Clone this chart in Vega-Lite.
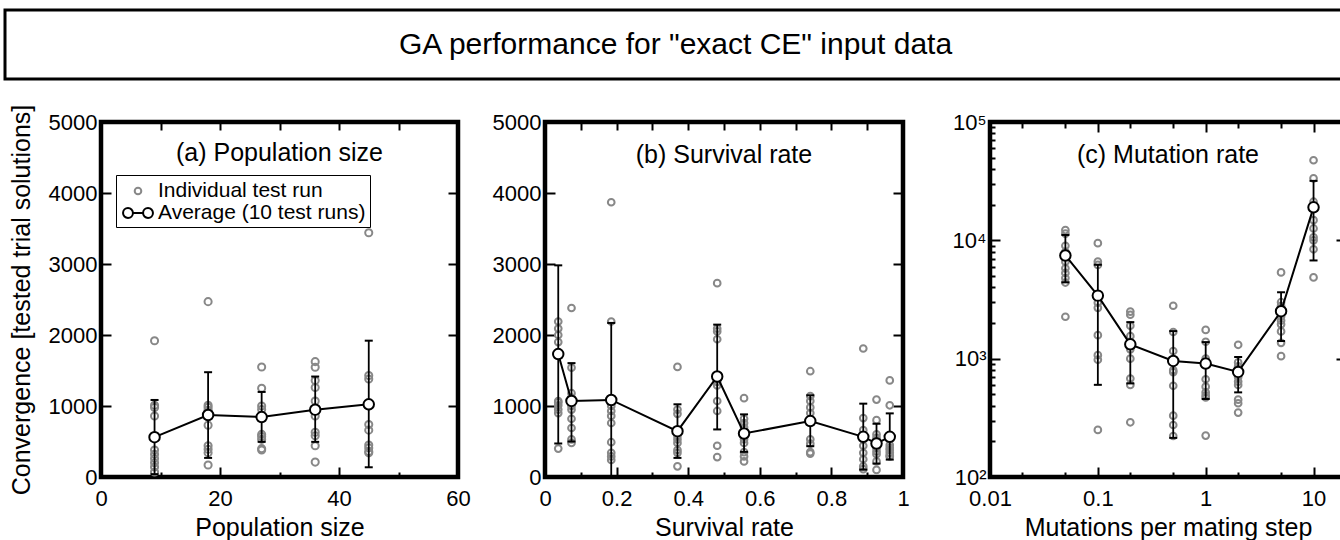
{
  "$schema": "https://vega.github.io/schema/vega-lite/v6.json",
  "padding": {"left": 3, "top": 8, "right": -8, "bottom": 0},
  "config": {
    "font": "Liberation Sans",
    "axis": {"domain": false, "grid": false, "tickColor": "black", "tickWidth": 2, "labelFontSize": 22, "labelColor": "black", "titleFontSize": 25, "titleFontWeight": "normal", "titleColor": "black", "labelFlush": false, "labelOverlap": false, "labelBound": false, "labelFont": "Liberation Sans", "titleFont": "Liberation Sans"},
    "title": {"fontWeight": "normal", "color": "black", "fontSize": 25, "font": "Liberation Sans"},
    "view": {"stroke": "black", "strokeWidth": 4.5},
    "legend": {"labelFont": "Liberation Sans"}
  },
  "datasets": {
    "head": [{"label": "GA performance for \"exact CE\" input data"}],
    "runs": [
      {"p":"a","x":9,"y":1920},{"p":"a","x":9,"y":1010},{"p":"a","x":9,"y":980},{"p":"a","x":9,"y":860},{"p":"a","x":9,"y":380},{"p":"a","x":9,"y":320},{"p":"a","x":9,"y":260},{"p":"a","x":9,"y":200},{"p":"a","x":9,"y":140},{"p":"a","x":9,"y":70},
      {"p":"a","x":18,"y":2470},{"p":"a","x":18,"y":1010},{"p":"a","x":18,"y":980},{"p":"a","x":18,"y":940},{"p":"a","x":18,"y":880},{"p":"a","x":18,"y":730},{"p":"a","x":18,"y":440},{"p":"a","x":18,"y":390},{"p":"a","x":18,"y":340},{"p":"a","x":18,"y":170},
      {"p":"a","x":27,"y":1550},{"p":"a","x":27,"y":1250},{"p":"a","x":27,"y":1000},{"p":"a","x":27,"y":950},{"p":"a","x":27,"y":840},{"p":"a","x":27,"y":600},{"p":"a","x":27,"y":570},{"p":"a","x":27,"y":530},{"p":"a","x":27,"y":400},{"p":"a","x":27,"y":380},
      {"p":"a","x":36,"y":1625},{"p":"a","x":36,"y":1545},{"p":"a","x":36,"y":1360},{"p":"a","x":36,"y":1260},{"p":"a","x":36,"y":1070},{"p":"a","x":36,"y":860},{"p":"a","x":36,"y":630},{"p":"a","x":36,"y":580},{"p":"a","x":36,"y":440},{"p":"a","x":36,"y":210},
      {"p":"a","x":45,"y":3440},{"p":"a","x":45,"y":1430},{"p":"a","x":45,"y":1380},{"p":"a","x":45,"y":1000},{"p":"a","x":45,"y":740},{"p":"a","x":45,"y":660},{"p":"a","x":45,"y":450},{"p":"a","x":45,"y":410},{"p":"a","x":45,"y":360},{"p":"a","x":45,"y":340},
      {"p":"b","x":0.037,"y":2190},{"p":"b","x":0.037,"y":2090},{"p":"b","x":0.037,"y":2000},{"p":"b","x":0.037,"y":1900},{"p":"b","x":0.037,"y":1070},{"p":"b","x":0.037,"y":1050},{"p":"b","x":0.037,"y":1010},{"p":"b","x":0.037,"y":950},{"p":"b","x":0.037,"y":900},{"p":"b","x":0.037,"y":400},
      {"p":"b","x":0.074,"y":2380},{"p":"b","x":0.074,"y":1540},{"p":"b","x":0.074,"y":1180},{"p":"b","x":0.074,"y":1120},{"p":"b","x":0.074,"y":1000},{"p":"b","x":0.074,"y":950},{"p":"b","x":0.074,"y":820},{"p":"b","x":0.074,"y":690},{"p":"b","x":0.074,"y":530},{"p":"b","x":0.074,"y":480},
      {"p":"b","x":0.185,"y":3870},{"p":"b","x":0.185,"y":2190},{"p":"b","x":0.185,"y":1000},{"p":"b","x":0.185,"y":930},{"p":"b","x":0.185,"y":860},{"p":"b","x":0.185,"y":760},{"p":"b","x":0.185,"y":490},{"p":"b","x":0.185,"y":340},{"p":"b","x":0.185,"y":290},{"p":"b","x":0.185,"y":240},
      {"p":"b","x":0.37,"y":1550},{"p":"b","x":0.37,"y":950},{"p":"b","x":0.37,"y":890},{"p":"b","x":0.37,"y":650},{"p":"b","x":0.37,"y":580},{"p":"b","x":0.37,"y":530},{"p":"b","x":0.37,"y":480},{"p":"b","x":0.37,"y":380},{"p":"b","x":0.37,"y":340},{"p":"b","x":0.37,"y":150},
      {"p":"b","x":0.481,"y":2730},{"p":"b","x":0.481,"y":2090},{"p":"b","x":0.481,"y":2050},{"p":"b","x":0.481,"y":1940},{"p":"b","x":0.481,"y":1340},{"p":"b","x":0.481,"y":1290},{"p":"b","x":0.481,"y":1070},{"p":"b","x":0.481,"y":930},{"p":"b","x":0.481,"y":440},{"p":"b","x":0.481,"y":280},
      {"p":"b","x":0.556,"y":1110},{"p":"b","x":0.556,"y":820},{"p":"b","x":0.556,"y":760},{"p":"b","x":0.556,"y":700},{"p":"b","x":0.556,"y":600},{"p":"b","x":0.556,"y":530},{"p":"b","x":0.556,"y":480},{"p":"b","x":0.556,"y":350},{"p":"b","x":0.556,"y":290},{"p":"b","x":0.556,"y":220},
      {"p":"b","x":0.741,"y":1490},{"p":"b","x":0.741,"y":1140},{"p":"b","x":0.741,"y":1070},{"p":"b","x":0.741,"y":980},{"p":"b","x":0.741,"y":900},{"p":"b","x":0.741,"y":800},{"p":"b","x":0.741,"y":530},{"p":"b","x":0.741,"y":470},{"p":"b","x":0.741,"y":350},{"p":"b","x":0.741,"y":330},
      {"p":"b","x":0.889,"y":1810},{"p":"b","x":0.889,"y":830},{"p":"b","x":0.889,"y":660},{"p":"b","x":0.889,"y":580},{"p":"b","x":0.889,"y":530},{"p":"b","x":0.889,"y":440},{"p":"b","x":0.889,"y":340},{"p":"b","x":0.889,"y":250},{"p":"b","x":0.889,"y":150},{"p":"b","x":0.889,"y":110},
      {"p":"b","x":0.926,"y":1090},{"p":"b","x":0.926,"y":800},{"p":"b","x":0.926,"y":600},{"p":"b","x":0.926,"y":550},{"p":"b","x":0.926,"y":500},{"p":"b","x":0.926,"y":410},{"p":"b","x":0.926,"y":360},{"p":"b","x":0.926,"y":320},{"p":"b","x":0.926,"y":220},{"p":"b","x":0.926,"y":100},
      {"p":"b","x":0.963,"y":1360},{"p":"b","x":0.963,"y":1010},{"p":"b","x":0.963,"y":560},{"p":"b","x":0.963,"y":530},{"p":"b","x":0.963,"y":450},{"p":"b","x":0.963,"y":410},{"p":"b","x":0.963,"y":380},{"p":"b","x":0.963,"y":340},{"p":"b","x":0.963,"y":300},{"p":"b","x":0.963,"y":290},
      {"p":"c","x":0.05,"y":12200},{"p":"c","x":0.05,"y":11400},{"p":"c","x":0.05,"y":9000},{"p":"c","x":0.05,"y":8000},{"p":"c","x":0.05,"y":6600},{"p":"c","x":0.05,"y":5800},{"p":"c","x":0.05,"y":5300},{"p":"c","x":0.05,"y":4800},{"p":"c","x":0.05,"y":4400},{"p":"c","x":0.05,"y":2260},
      {"p":"c","x":0.1,"y":9460},{"p":"c","x":0.1,"y":6600},{"p":"c","x":0.1,"y":6200},{"p":"c","x":0.1,"y":3400},{"p":"c","x":0.1,"y":2970},{"p":"c","x":0.1,"y":2690},{"p":"c","x":0.1,"y":1580},{"p":"c","x":0.1,"y":1070},{"p":"c","x":0.1,"y":980},{"p":"c","x":0.1,"y":250},
      {"p":"c","x":0.2,"y":2500},{"p":"c","x":0.2,"y":2350},{"p":"c","x":0.2,"y":1900},{"p":"c","x":0.2,"y":1550},{"p":"c","x":0.2,"y":1320},{"p":"c","x":0.2,"y":1200},{"p":"c","x":0.2,"y":1000},{"p":"c","x":0.2,"y":680},{"p":"c","x":0.2,"y":600},{"p":"c","x":0.2,"y":290},
      {"p":"c","x":0.5,"y":2800},{"p":"c","x":0.5,"y":1680},{"p":"c","x":0.5,"y":1160},{"p":"c","x":0.5,"y":960},{"p":"c","x":0.5,"y":800},{"p":"c","x":0.5,"y":770},{"p":"c","x":0.5,"y":590},{"p":"c","x":0.5,"y":330},{"p":"c","x":0.5,"y":275},{"p":"c","x":0.5,"y":222},
      {"p":"c","x":1,"y":1750},{"p":"c","x":1,"y":1390},{"p":"c","x":1,"y":1000},{"p":"c","x":1,"y":900},{"p":"c","x":1,"y":670},{"p":"c","x":1,"y":580},{"p":"c","x":1,"y":520},{"p":"c","x":1,"y":490},{"p":"c","x":1,"y":470},{"p":"c","x":1,"y":224},
      {"p":"c","x":2,"y":1310},{"p":"c","x":2,"y":930},{"p":"c","x":2,"y":860},{"p":"c","x":2,"y":780},{"p":"c","x":2,"y":700},{"p":"c","x":2,"y":640},{"p":"c","x":2,"y":600},{"p":"c","x":2,"y":450},{"p":"c","x":2,"y":420},{"p":"c","x":2,"y":350},
      {"p":"c","x":5,"y":5360},{"p":"c","x":5,"y":3000},{"p":"c","x":5,"y":2800},{"p":"c","x":5,"y":2500},{"p":"c","x":5,"y":2280},{"p":"c","x":5,"y":2100},{"p":"c","x":5,"y":1950},{"p":"c","x":5,"y":1700},{"p":"c","x":5,"y":1360},{"p":"c","x":5,"y":1050},
      {"p":"c","x":10,"y":47500},{"p":"c","x":10,"y":33400},{"p":"c","x":10,"y":21200},{"p":"c","x":10,"y":19000},{"p":"c","x":10,"y":14800},{"p":"c","x":10,"y":12600},{"p":"c","x":10,"y":10600},{"p":"c","x":10,"y":10000},{"p":"c","x":10,"y":8400},{"p":"c","x":10,"y":4860}
    ],
    "avg": [
      {"p":"a","x":9,"m":561,"lo":40,"hi":1085},
      {"p":"a","x":18,"m":873,"lo":269,"hi":1476},
      {"p":"a","x":27,"m":844,"lo":495,"hi":1198},
      {"p":"a","x":36,"m":948,"lo":495,"hi":1415},
      {"p":"a","x":45,"m":1024,"lo":137,"hi":1920},
      {"p":"b","x":0.037,"m":1731,"lo":472,"hi":2981},
      {"p":"b","x":0.074,"m":1071,"lo":500,"hi":1604},
      {"p":"b","x":0.185,"m":1085,"lo":0,"hi":2170},
      {"p":"b","x":0.37,"m":646,"lo":269,"hi":1024},
      {"p":"b","x":0.481,"m":1415,"lo":670,"hi":2146},
      {"p":"b","x":0.556,"m":613,"lo":354,"hi":882},
      {"p":"b","x":0.741,"m":788,"lo":434,"hi":1151},
      {"p":"b","x":0.889,"m":566,"lo":104,"hi":1033},
      {"p":"b","x":0.926,"m":472,"lo":189,"hi":750},
      {"p":"b","x":0.963,"m":566,"lo":245,"hi":896},
      {"p":"c","x":0.05,"m":7450,"lo":4415,"hi":11100},
      {"p":"c","x":0.1,"m":3410,"lo":601,"hi":6220},
      {"p":"c","x":0.2,"m":1321,"lo":618,"hi":2036},
      {"p":"c","x":0.5,"m":957,"lo":214,"hi":1710},
      {"p":"c","x":1,"m":909,"lo":456,"hi":1380},
      {"p":"c","x":2,"m":773,"lo":519,"hi":1033},
      {"p":"c","x":5,"m":2518,"lo":1409,"hi":3640},
      {"p":"c","x":10,"m":19000,"lo":6760,"hi":31800}
    ]
  },
  "spacing": 21,
  "vconcat": [
    {
      "width": 1341, "height": 69,
      "view": {"stroke": "black", "strokeWidth": 3},
      "data": {"name": "head"},
      "mark": {"type": "text", "fontSize": 30, "font": "Liberation Sans", "color": "black", "baseline": "middle"},
      "encoding": {"text": {"field": "label"}}
    },
    {
      "hconcat": [
        {
          "width": 8.5, "height": 355,
          "view": {"stroke": null},
          "data": {"values": []},
          "mark": "point"
        },
        {
          "width": 357, "height": 355,
          "title": {"text": "(a) Population size", "offset": -74, "baseline": "middle"},
          "layer": [
            {
              "data": {"name": "runs"}, "transform": [{"filter": "datum.p == 'a'"}],
              "mark": {"type": "point", "filled": false, "size": 560, "strokeWidth": 2, "opacity": 1},
              "encoding": {
                "x": {"field": "x", "type": "quantitative", "scale": {"domain": [0, 60], "nice": false, "zero": false},
                  "axis": {"orient": "bottom", "values": [0, 10, 20, 30, 40, 50, 60], "labelExpr": "datum.value % 20 == 0 ? datum.label : ''", "tickSize": {"condition": {"test": "datum.value % 20 == 0", "value": -10}, "value": -5}, "labelPadding": 21, "title": "Population size", "titlePadding": 1}},
                "y": {"field": "y", "type": "quantitative", "scale": {"domain": [0, 5000], "nice": false, "zero": false},
                  "axis": {"orient": "left", "values": [0, 1000, 2000, 3000, 4000, 5000], "format": "d", "tickSize": -10, "labelPadding": 14, "title": "Convergence [tested trial solutions]", "titlePadding": 14}},
                "stroke": {"datum": "Individual test run", "type": "nominal",
                  "scale": {"domain": ["Individual test run", "Average (10 test runs)"], "range": ["#888888", "#000000"]},
                  "legend": {"title": null, "orient": "none", "legendX": 15, "legendY": 53, "direction": "vertical", "strokeColor": "black", "fillColor": "white", "padding": 4, "labelFontSize": 21, "labelColor": "black", "labelOffset": 8, "rowPadding": 0, "symbolSize": 484, "symbolOffset": 6, "symbolStrokeWidth": 2, "labelLimit": 400}},
                "shape": {"datum": "Individual test run", "type": "nominal",
                  "scale": {"domain": ["Individual test run", "Average (10 test runs)"], "range": ["M -0.3 0 A 0.3 0.3 0 1 0 0.3 0 A 0.3 0.3 0 1 0 -0.3 0 Z", "M -1.36 0 A 0.45 0.45 0 1 0 -0.46 0 A 0.45 0.45 0 1 0 -1.36 0 Z M -0.46 0 L 0.46 0 M 0.46 0 A 0.45 0.45 0 1 0 1.36 0 A 0.45 0.45 0 1 0 0.46 0 Z"]},
                  "legend": {"title": null, "orient": "none", "legendX": 15, "legendY": 53, "direction": "vertical", "strokeColor": "black", "fillColor": "white", "padding": 4, "labelFontSize": 21, "labelColor": "black", "labelOffset": 8, "rowPadding": 0, "symbolSize": 484, "symbolOffset": 6, "symbolStrokeWidth": 2, "labelLimit": 400}}
              }
            },
            {
              "data": {"name": "avg"}, "transform": [{"filter": "datum.p == 'a'"}],
              "mark": {"type": "rule", "color": "black", "strokeWidth": 1.8},
              "encoding": {"x": {"field": "x", "type": "quantitative", "axis": null}, "y": {"field": "lo", "type": "quantitative", "axis": null}, "y2": {"field": "hi"}}
            },
            {
              "data": {"name": "avg"}, "transform": [{"filter": "datum.p == 'a'"}],
              "mark": {"type": "tick", "orient": "horizontal", "color": "black", "size": 8, "thickness": 2, "opacity": 1},
              "encoding": {"x": {"field": "x", "type": "quantitative", "axis": null}, "y": {"field": "lo", "type": "quantitative", "axis": null}}
            },
            {
              "data": {"name": "avg"}, "transform": [{"filter": "datum.p == 'a'"}],
              "mark": {"type": "tick", "orient": "horizontal", "color": "black", "size": 8, "thickness": 2, "opacity": 1},
              "encoding": {"x": {"field": "x", "type": "quantitative", "axis": null}, "y": {"field": "hi", "type": "quantitative", "axis": null}}
            },
            {
              "data": {"name": "avg"}, "transform": [{"filter": "datum.p == 'a'"}],
              "mark": {"type": "line", "color": "black", "strokeWidth": 2},
              "encoding": {"x": {"field": "x", "type": "quantitative", "axis": null}, "y": {"field": "m", "type": "quantitative", "axis": null}}
            },
            {
              "data": {"name": "avg"}, "transform": [{"filter": "datum.p == 'a'"}],
              "mark": {"type": "point", "shape": "circle", "filled": true, "fill": "white", "strokeWidth": 2, "size": 110, "opacity": 1},
              "encoding": {
                "x": {"field": "x", "type": "quantitative", "axis": {"orient": "top", "values": [0, 10, 20, 30, 40, 50, 60], "labels": false, "title": null, "tickSize": -8}},
                "y": {"field": "m", "type": "quantitative", "axis": {"orient": "right", "values": [0, 1000, 2000, 3000, 4000, 5000], "labels": false, "title": null, "tickSize": -10}},
                "stroke": {"datum": "Average (10 test runs)", "type": "nominal"}
              }
            }
          ],
          "resolve": {"axis": {"x": "independent", "y": "independent"}}
        },
        {
          "width": 358, "height": 355,
          "title": {"text": "(b) Survival rate", "offset": -69, "baseline": "middle"},
          "layer": [
            {
              "data": {"name": "runs"}, "transform": [{"filter": "datum.p == 'b'"}],
              "mark": {"type": "point", "shape": "circle", "filled": false, "size": 45, "strokeWidth": 2, "opacity": 1, "stroke": "#888888"},
              "encoding": {
                "x": {"field": "x", "type": "quantitative", "scale": {"domain": [0, 1], "nice": false, "zero": false},
                  "axis": {"orient": "bottom", "values": [0, 0.1, 0.2, 0.3, 0.4, 0.5, 0.6, 0.7, 0.8, 0.9, 1], "format": "~g", "labelExpr": "round(datum.value * 10) % 2 == 0 ? datum.label : ''", "tickSize": {"condition": {"test": "round(datum.value * 10) % 2 == 0", "value": -10}, "value": -5}, "labelPadding": 21, "title": "Survival rate", "titlePadding": 1}},
                "y": {"field": "y", "type": "quantitative", "scale": {"domain": [0, 5000], "nice": false, "zero": false},
                  "axis": {"orient": "left", "values": [0, 1000, 2000, 3000, 4000, 5000], "format": "d", "tickSize": -10, "labelPadding": 14, "title": null}}
              }
            },
            {
              "data": {"name": "avg"}, "transform": [{"filter": "datum.p == 'b'"}],
              "mark": {"type": "rule", "color": "black", "strokeWidth": 1.8},
              "encoding": {"x": {"field": "x", "type": "quantitative", "axis": null}, "y": {"field": "lo", "type": "quantitative", "axis": null}, "y2": {"field": "hi"}}
            },
            {
              "data": {"name": "avg"}, "transform": [{"filter": "datum.p == 'b'"}],
              "mark": {"type": "tick", "orient": "horizontal", "color": "black", "size": 8, "thickness": 2, "opacity": 1},
              "encoding": {"x": {"field": "x", "type": "quantitative", "axis": null}, "y": {"field": "lo", "type": "quantitative", "axis": null}}
            },
            {
              "data": {"name": "avg"}, "transform": [{"filter": "datum.p == 'b'"}],
              "mark": {"type": "tick", "orient": "horizontal", "color": "black", "size": 8, "thickness": 2, "opacity": 1},
              "encoding": {"x": {"field": "x", "type": "quantitative", "axis": null}, "y": {"field": "hi", "type": "quantitative", "axis": null}}
            },
            {
              "data": {"name": "avg"}, "transform": [{"filter": "datum.p == 'b'"}],
              "mark": {"type": "line", "color": "black", "strokeWidth": 2},
              "encoding": {"x": {"field": "x", "type": "quantitative", "axis": null}, "y": {"field": "m", "type": "quantitative", "axis": null}}
            },
            {
              "data": {"name": "avg"}, "transform": [{"filter": "datum.p == 'b'"}],
              "mark": {"type": "point", "shape": "circle", "filled": true, "fill": "white", "stroke": "black", "strokeWidth": 2, "size": 110, "opacity": 1},
              "encoding": {
                "x": {"field": "x", "type": "quantitative", "axis": {"orient": "top", "values": [0, 0.1, 0.2, 0.3, 0.4, 0.5, 0.6, 0.7, 0.8, 0.9, 1], "labels": false, "title": null, "tickSize": -8}},
                "y": {"field": "m", "type": "quantitative", "axis": {"orient": "right", "values": [0, 1000, 2000, 3000, 4000, 5000], "labels": false, "title": null, "tickSize": -10}}
              }
            }
          ],
          "resolve": {"axis": {"x": "independent", "y": "independent"}}
        },
        {
          "width": 356, "height": 355,
          "title": {"text": "(c) Mutation rate", "offset": -69, "baseline": "middle"},
          "layer": [
            {
              "data": {"name": "runs"}, "transform": [{"filter": "datum.p == 'c'"}],
              "mark": {"type": "point", "shape": "circle", "filled": false, "size": 45, "strokeWidth": 2, "opacity": 1, "stroke": "#888888"},
              "encoding": {
                "x": {"field": "x", "type": "quantitative", "scale": {"type": "log", "domain": [0.01, 20], "nice": false},
                  "axis": {"orient": "bottom", "values": [0.01, 0.02, 0.05, 0.1, 0.2, 0.5, 1, 2, 5, 10, 20], "labelExpr": "datum.value == 0.01 ? '0.01' : datum.value == 0.1 ? '0.1' : datum.value == 1 ? '1' : datum.value == 10 ? '10' : ''", "tickSize": {"condition": {"test": "datum.value == 0.01 || datum.value == 0.1 || datum.value == 1 || datum.value == 10", "value": -10}, "value": -5}, "labelPadding": 21, "title": "Mutations per mating step", "titlePadding": 1}},
                "y": {"field": "y", "type": "quantitative", "scale": {"type": "log", "domain": [100, 100000], "nice": false},
                  "axis": {"orient": "left", "values": [100, 200, 300, 400, 500, 600, 700, 800, 900, 1000, 2000, 3000, 4000, 5000, 6000, 7000, 8000, 9000, 10000, 20000, 30000, 40000, 50000, 60000, 70000, 80000, 90000, 100000], "labelExpr": "datum.value == 100 ? '10²' : datum.value == 1000 ? '10³' : datum.value == 10000 ? '10⁴' : datum.value == 100000 ? '10⁵' : ''", "tickSize": {"condition": {"test": "datum.value == 100 || datum.value == 1000 || datum.value == 10000 || datum.value == 100000", "value": -10}, "value": -5}, "labelPadding": 14, "title": null}}
              }
            },
            {
              "data": {"name": "avg"}, "transform": [{"filter": "datum.p == 'c'"}],
              "mark": {"type": "rule", "color": "black", "strokeWidth": 1.8},
              "encoding": {"x": {"field": "x", "type": "quantitative", "axis": null}, "y": {"field": "lo", "type": "quantitative", "axis": null}, "y2": {"field": "hi"}}
            },
            {
              "data": {"name": "avg"}, "transform": [{"filter": "datum.p == 'c'"}],
              "mark": {"type": "tick", "orient": "horizontal", "color": "black", "size": 8, "thickness": 2, "opacity": 1},
              "encoding": {"x": {"field": "x", "type": "quantitative", "axis": null}, "y": {"field": "lo", "type": "quantitative", "axis": null}}
            },
            {
              "data": {"name": "avg"}, "transform": [{"filter": "datum.p == 'c'"}],
              "mark": {"type": "tick", "orient": "horizontal", "color": "black", "size": 8, "thickness": 2, "opacity": 1},
              "encoding": {"x": {"field": "x", "type": "quantitative", "axis": null}, "y": {"field": "hi", "type": "quantitative", "axis": null}}
            },
            {
              "data": {"name": "avg"}, "transform": [{"filter": "datum.p == 'c'"}],
              "mark": {"type": "line", "color": "black", "strokeWidth": 2},
              "encoding": {"x": {"field": "x", "type": "quantitative", "axis": null}, "y": {"field": "m", "type": "quantitative", "axis": null}}
            },
            {
              "data": {"name": "avg"}, "transform": [{"filter": "datum.p == 'c'"}],
              "mark": {"type": "point", "shape": "circle", "filled": true, "fill": "white", "stroke": "black", "strokeWidth": 2, "size": 110, "opacity": 1},
              "encoding": {
                "x": {"field": "x", "type": "quantitative", "axis": {"orient": "top", "values": [0.01, 0.02, 0.05, 0.1, 0.2, 0.5, 1, 2, 5, 10, 20], "labels": false, "title": null, "tickSize": {"condition": {"test": "datum.value == 0.01 || datum.value == 0.1 || datum.value == 1 || datum.value == 10", "value": -10}, "value": -6}}},
                "y": {"field": "m", "type": "quantitative", "axis": {"orient": "right", "values": [100, 200, 300, 400, 500, 600, 700, 800, 900, 1000, 2000, 3000, 4000, 5000, 6000, 7000, 8000, 9000, 10000, 20000, 30000, 40000, 50000, 60000, 70000, 80000, 90000, 100000], "labels": false, "title": null, "tickSize": {"condition": {"test": "datum.value == 100 || datum.value == 1000 || datum.value == 10000 || datum.value == 100000", "value": -10}, "value": -5}}}
              }
            }
          ],
          "resolve": {"axis": {"x": "independent", "y": "independent"}}
        }
      ],
      "spacing": 87,
      "bounds": "flush",
      "resolve": {"scale": {"x": "independent", "y": "independent", "stroke": "independent", "shape": "independent"}, "axis": {"x": "independent", "y": "independent"}, "legend": {"stroke": "independent", "shape": "independent"}}
    }
  ]
}
